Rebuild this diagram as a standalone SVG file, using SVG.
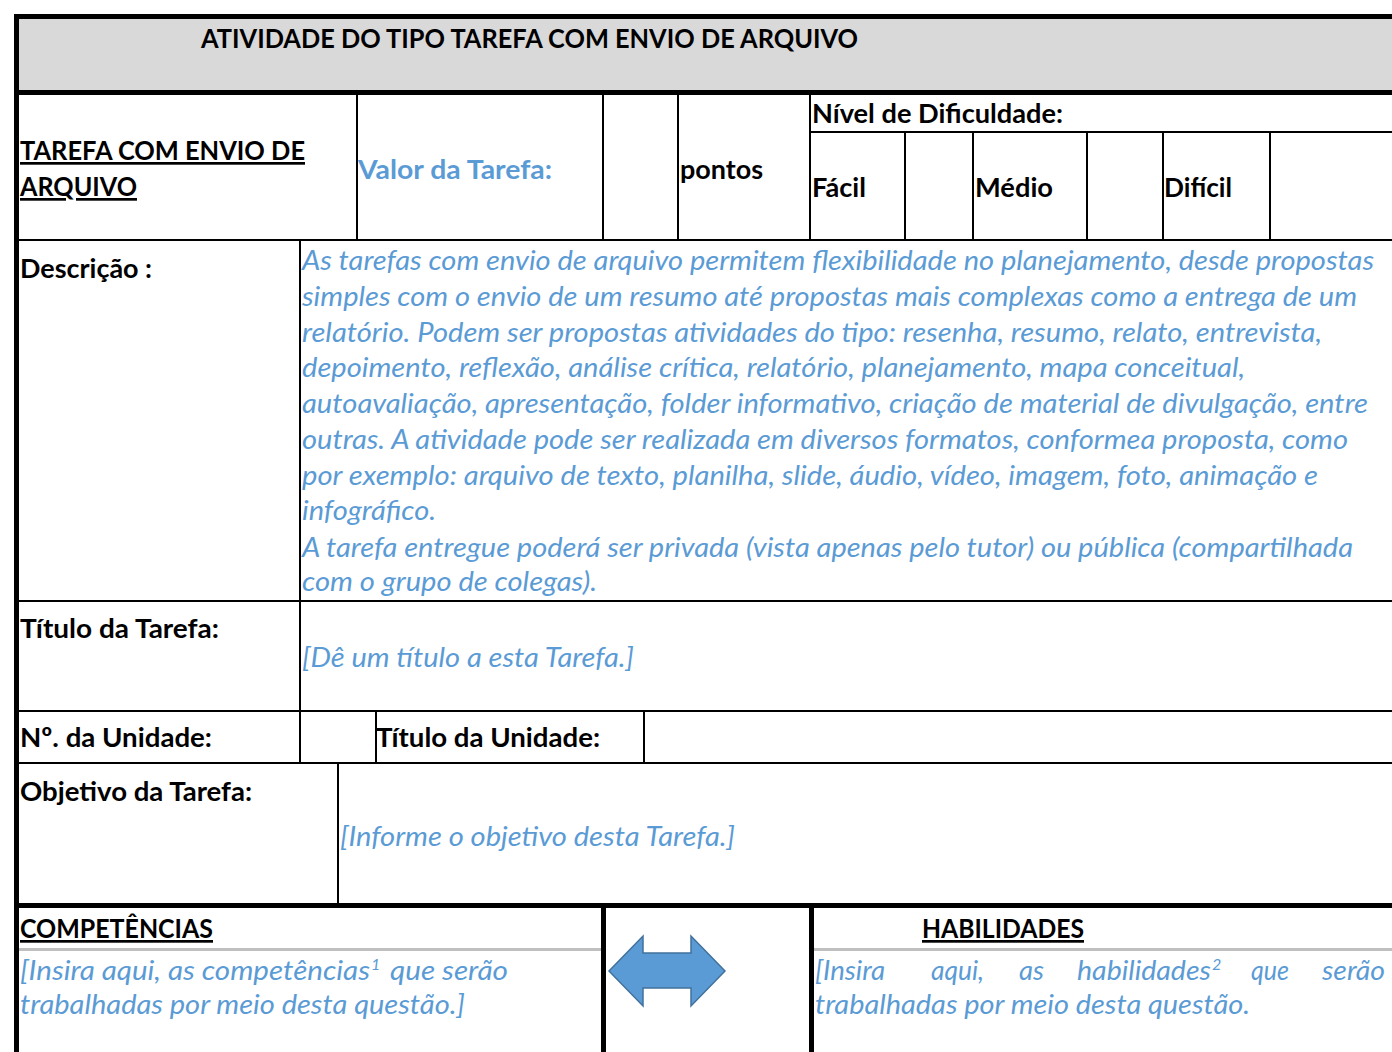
<svg xmlns="http://www.w3.org/2000/svg" width="1392" height="1052" viewBox="0 0 1392 1052">
<style>
text { font-family: Lato, "Open Sans", "Liberation Sans", sans-serif; font-size: 27px; }
.b { font-weight: bold; fill: #000; }
.bb { font-weight: bold; fill: #5b9bd5; }
.i { font-style: italic; fill: #5b9bd5; }
.u { text-decoration: underline; }
.sup { font-size: 16px; font-style: italic; fill: #5b9bd5; }
.k { fill: #000; }
.g { fill: #bfbfbf; }
</style>
<rect x="0" y="0" width="1392" height="1052" fill="#fff"/>
<g id="grid">
  <rect x="19" y="19" width="1373" height="71" fill="#d9d9d9"/>
  <rect class="k" x="14" y="14" width="1378" height="5"/>
  <rect class="k" x="14" y="14" width="5" height="1038"/>
  <rect class="k" x="14" y="90" width="1378" height="5"/>
  <rect class="k" x="14" y="903" width="1378" height="5"/>
  <rect class="k" x="601" y="903" width="5" height="149"/>
  <rect class="k" x="809" y="903" width="5" height="149"/>
  <rect class="k" x="356" y="95" width="2" height="145"/>
  <rect class="k" x="602" y="95" width="2" height="145"/>
  <rect class="k" x="677" y="95" width="2" height="145"/>
  <rect class="k" x="809" y="95" width="2" height="145"/>
  <rect class="k" x="809" y="131" width="583" height="2"/>
  <rect class="k" x="904" y="132" width="2" height="108"/>
  <rect class="k" x="972" y="132" width="2" height="108"/>
  <rect class="k" x="1086" y="132" width="2" height="108"/>
  <rect class="k" x="1162" y="132" width="2" height="108"/>
  <rect class="k" x="1269" y="132" width="2" height="108"/>
  <rect class="k" x="19" y="239" width="1373" height="2"/>
  <rect class="k" x="299" y="240" width="2" height="523"/>
  <rect class="k" x="19" y="600" width="1373" height="2"/>
  <rect class="k" x="19" y="710" width="1373" height="2"/>
  <rect class="k" x="19" y="762" width="1373" height="2"/>
  <rect class="k" x="375" y="711" width="2" height="52"/>
  <rect class="k" x="643" y="711" width="2" height="52"/>
  <rect class="k" x="337" y="763" width="2" height="140"/>
  <rect class="g" x="19" y="948" width="582" height="3"/>
  <rect class="g" x="814" y="948" width="578" height="3"/>
</g>
<g id="title">
  <text class="b" x="201" y="48" textLength="657" lengthAdjust="spacingAndGlyphs">ATIVIDADE DO TIPO TAREFA COM ENVIO DE ARQUIVO</text>
</g>
<g id="tarefa-label">
  <text class="b u" x="20" y="160" textLength="285" lengthAdjust="spacingAndGlyphs">TAREFA COM ENVIO DE</text>
  <text class="b u" x="20" y="196" textLength="117" lengthAdjust="spacingAndGlyphs">ARQUIVO</text>
</g>
<g id="valor">
  <text class="bb" x="358" y="179" textLength="194" lengthAdjust="spacingAndGlyphs">Valor da Tarefa:</text>
</g>
<g id="pontos">
  <text class="b" x="680" y="179" textLength="83" lengthAdjust="spacingAndGlyphs">pontos</text>
</g>
<g id="nivel">
  <text class="b" x="812" y="123" textLength="251" lengthAdjust="spacingAndGlyphs">Nível de Dificuldade:</text>
  <text class="b" x="812" y="197" textLength="54" lengthAdjust="spacingAndGlyphs">Fácil</text>
  <text class="b" x="975" y="197" textLength="78" lengthAdjust="spacingAndGlyphs">Médio</text>
  <text class="b" x="1164" y="197" textLength="68" lengthAdjust="spacingAndGlyphs">Difícil</text>
</g>
<g id="descricao">
  <text class="b" x="20" y="278" textLength="132" lengthAdjust="spacingAndGlyphs">Descrição :</text>
  <text class="i" x="302" y="270" textLength="1072" lengthAdjust="spacingAndGlyphs">As tarefas com envio de arquivo permitem flexibilidade no planejamento, desde propostas</text>
  <text class="i" x="302" y="306" textLength="1055" lengthAdjust="spacingAndGlyphs">simples com o envio de um resumo até propostas mais complexas como a entrega de um</text>
  <text class="i" x="302" y="342" textLength="1020" lengthAdjust="spacingAndGlyphs">relatório. Podem ser propostas atividades do tipo: resenha, resumo, relato, entrevista,</text>
  <text class="i" x="302" y="377" textLength="943" lengthAdjust="spacingAndGlyphs">depoimento, reflexão, análise crítica, relatório, planejamento, mapa conceitual,</text>
  <text class="i" x="302" y="413" textLength="1066" lengthAdjust="spacingAndGlyphs">autoavaliação, apresentação, folder informativo, criação de material de divulgação, entre</text>
  <text class="i" x="302" y="449" textLength="1046" lengthAdjust="spacingAndGlyphs">outras. A atividade pode ser realizada em diversos formatos, conformea proposta, como</text>
  <text class="i" x="302" y="485" textLength="1016" lengthAdjust="spacingAndGlyphs">por exemplo: arquivo de texto, planilha, slide, áudio, vídeo, imagem, foto, animação e</text>
  <text class="i" x="302" y="520" textLength="134" lengthAdjust="spacingAndGlyphs">infográfico.</text>
  <text class="i" x="302" y="557" textLength="1051" lengthAdjust="spacingAndGlyphs">A tarefa entregue poderá ser privada (vista apenas pelo tutor) ou pública (compartilhada</text>
  <text class="i" x="302" y="591" textLength="295" lengthAdjust="spacingAndGlyphs">com o grupo de colegas).</text>
</g>
<g id="titulo-tarefa">
  <text class="b" x="20" y="638" textLength="199" lengthAdjust="spacingAndGlyphs">Título da Tarefa:</text>
  <text class="i" x="302" y="667" textLength="332" lengthAdjust="spacingAndGlyphs">[Dê um título a esta Tarefa.]</text>
</g>
<g id="unidade">
  <text class="b" x="20" y="747" textLength="192" lengthAdjust="spacingAndGlyphs">Nº. da Unidade:</text>
  <text class="b" x="376" y="747" textLength="224" lengthAdjust="spacingAndGlyphs">Título da Unidade:</text>
</g>
<g id="objetivo">
  <text class="b" x="20" y="801" textLength="232" lengthAdjust="spacingAndGlyphs">Objetivo da Tarefa:</text>
  <text class="i" x="340" y="846" textLength="395" lengthAdjust="spacingAndGlyphs">[Informe o objetivo desta Tarefa.]</text>
</g>
<g id="competencias">
  <text class="b u" x="20" y="938" textLength="193" lengthAdjust="spacingAndGlyphs">COMPETÊNCIAS</text>
  <text class="i" x="20" y="980" textLength="350" lengthAdjust="spacingAndGlyphs">[Insira aqui, as competências</text>
  <text class="sup" x="371" y="970">1</text>
  <text class="i" x="390" y="980" textLength="118" lengthAdjust="spacingAndGlyphs">que serão</text>
  <text class="i" x="20" y="1014" textLength="445" lengthAdjust="spacingAndGlyphs">trabalhadas por meio desta questão.]</text>
</g>
<g id="arrow">
  <polygon points="609,971 643,936 643,953 691,953 691,936 725,971 691,1006 691,988 643,988 643,1006" fill="#5b9bd5" stroke="#41719c" stroke-width="1.5" stroke-linejoin="miter"/>
</g>
<g id="habilidades">
  <text class="b u" x="922" y="938" textLength="162" lengthAdjust="spacingAndGlyphs">HABILIDADES</text>
  <text class="i" x="815" y="980" textLength="70" lengthAdjust="spacingAndGlyphs">[Insira</text>
  <text class="i" x="931" y="980" textLength="53" lengthAdjust="spacingAndGlyphs">aqui,</text>
  <text class="i" x="1019" y="980" textLength="25" lengthAdjust="spacingAndGlyphs">as</text>
  <text class="i" x="1077" y="980" textLength="134" lengthAdjust="spacingAndGlyphs">habilidades</text>
  <text class="sup" x="1212" y="970">2</text>
  <text class="i" x="1251" y="980" textLength="38" lengthAdjust="spacingAndGlyphs">que</text>
  <text class="i" x="1322" y="980" textLength="63" lengthAdjust="spacingAndGlyphs">serão</text>
  <text class="i" x="815" y="1014" textLength="435" lengthAdjust="spacingAndGlyphs">trabalhadas por meio desta questão.</text>
</g>
</svg>
